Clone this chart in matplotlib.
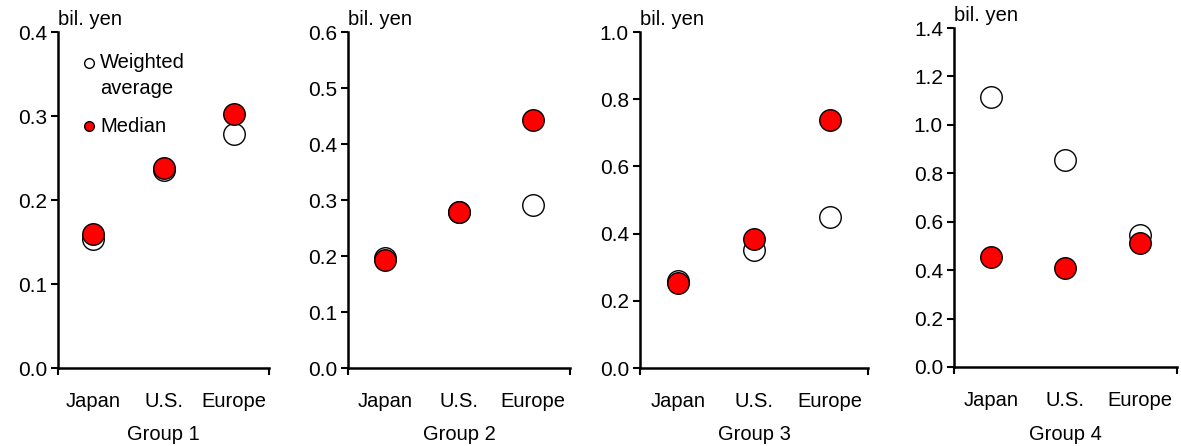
import matplotlib.pyplot as plt

plt.rcParams['font.family'] = ['Liberation Sans', 'DejaVu Sans']

categories = ["Japan", "U.S.", "Europe"]
groups = ["Group 1", "Group 2", "Group 3", "Group 4"]

weighted_avg = [
    [0.153, 0.236, 0.278],
    [0.197, 0.279, 0.291],
    [0.258, 0.350, 0.449],
    [1.113, 0.853, 0.545],
]
median = [
    [0.159, 0.238, 0.302],
    [0.193, 0.279, 0.443],
    [0.252, 0.385, 0.737],
    [0.455, 0.410, 0.513],
]
y_max = [0.4, 0.6, 1.0, 1.4]
y_step = [0.1, 0.1, 0.2, 0.2]

# axes boxes in pixels: left, right, top, bottom
boxes = [(58, 269, 32, 368), (348, 570, 32, 368), (640, 868, 32, 368), (954, 1177, 28, 367)]
W, H = 1181, 446
FS = 14.5

fig = plt.figure(figsize=(W / 100, H / 100), dpi=100)

for i in range(4):
    l, r, t, b = boxes[i]
    ax = fig.add_axes([l / W, 1 - b / H, (r - l) / W, (b - t) / H])
    xs = [0.5, 1.5, 2.5]
    ax.plot(xs, weighted_avg[i], 'o', ms=15.5, mfc='white', mec='black', mew=1.0,
            clip_on=False, zorder=3)
    ax.plot(xs, median[i], 'o', ms=15.5, mfc='#ff0000', mec='black', mew=1.0,
            clip_on=False, zorder=4)
    ax.set_xlim(0, 3)
    ax.set_ylim(0, y_max[i])
    n = int(round(y_max[i] / y_step[i]))
    ticks = [k * y_step[i] for k in range(n + 1)]
    ax.set_yticks(ticks)
    ax.set_yticklabels([f"{v:.1f}" for v in ticks], fontsize=15)
    ax.set_xticks(xs)
    ax.set_xticklabels(categories, fontsize=FS)
    ax.set_xticks([0, 3], minor=True)
    ax.tick_params(axis='x', which='major', length=0, pad=17)
    ax.tick_params(axis='x', which='minor', length=5, width=1.5, direction='out')
    ax.tick_params(axis='y', length=5, width=1.5, direction='out', pad=3)
    for s in ['top', 'right']:
        ax.spines[s].set_visible(False)
    for s in ['left', 'bottom']:
        ax.spines[s].set_linewidth(1.8)
    ax.text(0, 1.01, "bil. yen", transform=ax.transAxes, ha='left', va='bottom',
            fontsize=FS)
    fig.text((l + r) / 2 / W, 1 - 435 / H, groups[i], ha='center', va='center',
             fontsize=FS)
    if i == 0:
        # legend, drawn by hand so the marker sits on the first text line
        ax.plot([0.147], [0.908], 'o', ms=7, mfc='white', mec='black', mew=1.0,
                transform=ax.transAxes, clip_on=False)
        ax.plot([0.147], [0.720], 'o', ms=7, mfc='#ff0000', mec='black', mew=1.0,
                transform=ax.transAxes, clip_on=False)
        ax.text(0.199, 0.908, "Weighted", transform=ax.transAxes, ha='left',
                va='center', fontsize=FS)
        ax.text(0.199, 0.833, "average", transform=ax.transAxes, ha='left',
                va='center', fontsize=FS)
        ax.text(0.199, 0.720, "Median", transform=ax.transAxes, ha='left',
                va='center', fontsize=FS)

fig.savefig('out.png', dpi=100)
